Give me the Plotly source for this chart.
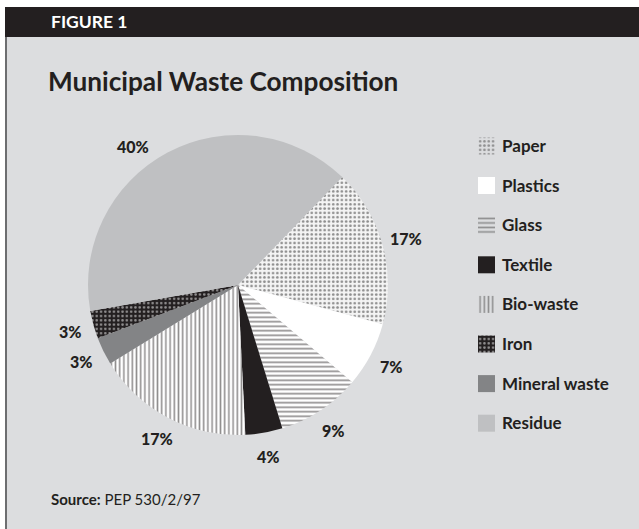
import math
import plotly.graph_objects as go

# Municipal waste composition (percent of total)
categories = ["Paper", "Plastics", "Glass", "Textile", "Bio-waste", "Iron", "Mineral waste", "Residue"]
shares = [17, 7, 9, 4, 17, 3, 3, 40]
# order in which the slices run clockwise round the pie
slice_order = ["Paper", "Plastics", "Glass", "Textile", "Bio-waste", "Mineral waste", "Iron", "Residue"]
source_note = "PEP 530/2/97"

W, H = 639, 529
BG = "#dcdddf"
INK = "#231f20"
FONT = "Lato"

# fill style per category: (base colour, pattern shape, pattern colour, pattern size, solidity)
styles = {
    "Paper":         ("#f4f4f4", ".", "#2a2a2a", 4.3, 0.3),
    "Plastics":      ("#ffffff", "",  "#ffffff", 8, 0.3),
    "Glass":         ("#ffffff", "-", "#231f20", 4.5, 0.38),
    "Textile":       ("#231f20", "",  "#231f20", 8, 0.3),
    "Bio-waste":     ("#ffffff", "|", "#231f20", 4.2, 0.38),
    "Iron":          ("#231f20", ".", "#ffffff", 4.3, 0.28),
    "Mineral waste": ("#838486", "",  "#838486", 8, 0.3),
    "Residue":       ("#bfc0c2", "",  "#bfc0c2", 8, 0.3),
}
# in the key, the hatched swatches sit straight on the panel colour
key_base = {"Paper": BG, "Glass": BG, "Bio-waste": BG}

# pie geometry in pixels
cx, cy, R = 238, 285, 150
start_deg = 44

share_of = dict(zip(categories, shares))
pie_values = [share_of[c] for c in slice_order]


def px_x(x):
    return x / W


def px_y(y):
    return 1 - y / H


def pattern_for(names, base):
    return dict(
        shape=[styles[c][1] for c in names],
        fgcolor=[styles[c][2] for c in names],
        bgcolor=base,
        size=[styles[c][3] for c in names],
        solidity=[styles[c][4] for c in names],
        fillmode="overlay",
    )


fig = go.Figure()

pie_base = [styles[c][0] for c in slice_order]
fig.add_trace(go.Pie(
    labels=slice_order,
    values=pie_values,
    sort=False,
    direction="clockwise",
    rotation=start_deg,
    textinfo="none",
    hoverinfo="label+percent",
    showlegend=False,
    domain=dict(x=[px_x(cx - R), px_x(cx + R)], y=[px_y(cy + R), px_y(cy - R)]),
    marker=dict(colors=pie_base, line=dict(width=0),
                pattern=pattern_for(slice_order, pie_base)),
))

# key: one swatch per category with its name beside it
key_colors = [key_base.get(c, styles[c][0]) for c in categories]
fig.add_trace(go.Bar(
    y=categories,
    x=[1] * len(categories),
    orientation="h",
    xaxis="x",
    yaxis="y",
    showlegend=False,
    hoverinfo="y",
    marker=dict(color=key_colors, line=dict(width=0),
                pattern=pattern_for(categories, key_colors)),
))

row = 39.6
key_top = 146 - row / 2
key_bot = key_top + row * len(categories)

# percentage labels placed outside each slice, at the slice's mid angle
label_r = 174
angle_nudge = {"Residue": -9}
annotations = []
acc = 0
total = sum(pie_values)
for c, v in zip(slice_order, pie_values):
    mid = start_deg + (acc + v / 2) / total * 360 + angle_nudge.get(c, 0)
    acc += v
    th = math.radians(mid)
    lx = cx + label_r * math.sin(th)
    ly = cy - label_r * math.cos(th)
    annotations.append(dict(
        x=px_x(lx), y=px_y(ly), xref="paper", yref="paper",
        text=f"{v}%", showarrow=False,
        font=dict(family=FONT, size=16, color=INK, weight=900),
        xanchor="center", yanchor="middle",
    ))

annotations += [
    dict(x=px_x(49), y=px_y(22), xref="paper", yref="paper", text="FIGURE 1",
         showarrow=False, xanchor="left", yanchor="middle",
         font=dict(family=FONT, size=17.5, color="#ffffff", weight="bold")),
    dict(x=px_x(46), y=px_y(81), xref="paper", yref="paper",
         text="Municipal Waste Composition", showarrow=False,
         xanchor="left", yanchor="middle",
         font=dict(family=FONT, size=26.2, color=INK, weight="bold")),
    dict(x=px_x(49), y=px_y(499), xref="paper", yref="paper",
         text=f"<b>Source:</b> {source_note}", showarrow=False,
         xanchor="left", yanchor="middle",
         font=dict(family=FONT, size=15, color=INK)),
]

shapes = [
    dict(type="rect", xref="paper", yref="paper", x0=0, x1=1, y0=0, y1=1,
         fillcolor="#ffffff", line=dict(width=0), layer="below"),
    dict(type="rect", xref="paper", yref="paper", x0=px_x(5), x1=1, y0=0, y1=px_y(37),
         fillcolor=BG, line=dict(width=0), layer="below"),
    dict(type="rect", xref="paper", yref="paper", x0=px_x(5), x1=1, y0=px_y(37), y1=px_y(7),
         fillcolor=INK, line=dict(width=0), layer="below"),
    dict(type="rect", xref="paper", yref="paper", x0=px_x(5), x1=px_x(7), y0=0, y1=px_y(37),
         fillcolor="#6d6e70", line=dict(width=0), layer="below"),
]

fig.update_layout(
    width=W, height=H,
    margin=dict(l=0, r=0, t=0, b=0),
    paper_bgcolor=BG,
    plot_bgcolor="rgba(0,0,0,0)",
    bargap=1 - 17 / row,
    xaxis=dict(domain=[px_x(478), px_x(495)], range=[0, 1], visible=False, fixedrange=True),
    yaxis=dict(domain=[px_y(key_bot), px_y(key_top)], autorange="reversed",
               side="right", showgrid=False, zeroline=False, showline=False,
               ticks="", ticklabelstandoff=6,
               tickfont=dict(family=FONT, size=17, color=INK, weight="bold"),
               fixedrange=True),
    shapes=shapes,
    annotations=annotations,
    showlegend=False,
)

fig.write_html("out.html")
